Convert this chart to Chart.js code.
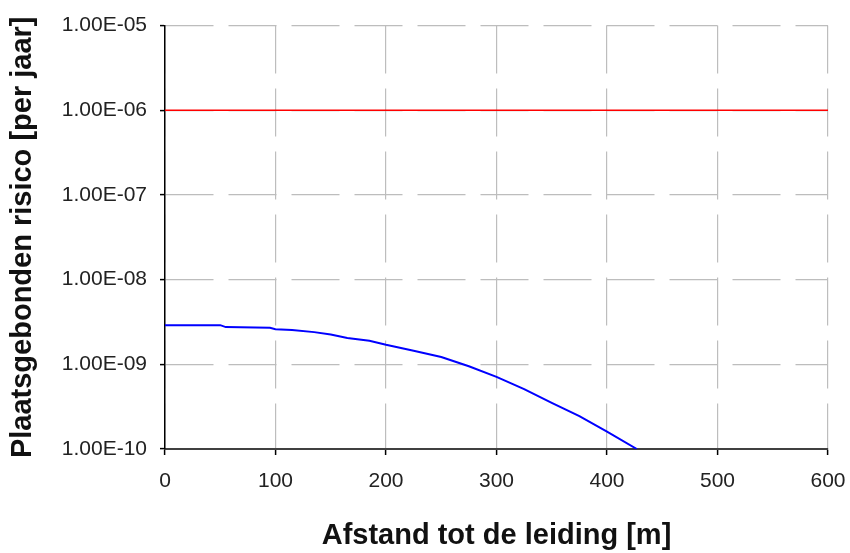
<!DOCTYPE html>
<html>
<head>
<meta charset="utf-8">
<script src="https://cdn.jsdelivr.net/npm/chart.js@4/dist/chart.umd.min.js"></script>
<style>
  html, body { margin: 0; padding: 0; background: #fff; }
  #wrap { width: 850px; height: 553px; }
</style>
</head>
<body>
<div id="wrap"><canvas id="myChart" width="850" height="553"></canvas></div>
<script>
// distance to the pipeline [m] and individual risk [per year]
const distance = [0, 50, 55, 95, 100, 115, 135, 150, 165, 185, 200, 225, 250, 275, 300, 325, 350, 375, 400, 427];
const risk = [2.9e-9, 2.9e-9, 2.75e-9, 2.7e-9, 2.6e-9, 2.55e-9, 2.4e-9, 2.25e-9, 2.05e-9, 1.9e-9, 1.7e-9,
  1.45e-9, 1.22e-9, 9.5e-10, 7.1e-10, 5.1e-10, 3.5e-10, 2.45e-10, 1.6e-10, 1.0e-10];

// norm line
const normX = [0, 600];
const normY = [1e-6, 1e-6];

const yTicks = [1e-10, 1e-9, 1e-8, 1e-7, 1e-6, 1e-5];
const xTicks = [0, 100, 200, 300, 400, 500, 600];

function fmtExp(v) {
  const e = Math.round(Math.log10(v));
  const m = v / Math.pow(10, e);
  return m.toFixed(2) + 'E' + (e < 0 ? '-' : '+') + String(Math.abs(e)).padStart(2, '0');
}

const ctx = document.getElementById('myChart');
const font = 'Liberation Sans, Arial, sans-serif';
const dash = [48, 15];

new Chart(ctx, {
  type: 'line',
  data: {
    datasets: [
      {
        data: normX.map((x, i) => ({ x: x, y: normY[i] })),
        borderColor: '#ff0000',
        borderWidth: 1.5,
        pointRadius: 0
      },
      {
        data: distance.map((x, i) => ({ x: x, y: risk[i] })),
        borderColor: '#0000ff',
        borderWidth: 2,
        pointRadius: 0,
        tension: 0
      }
    ]
  },
  options: {
    responsive: false,
    animation: false,
    layout: { padding: { top: 25, right: 22, left: 6, bottom: 0 } },
    plugins: { legend: { display: false }, tooltip: { enabled: false } },
    scales: {
      x: {
        type: 'linear',
        min: 0,
        max: 600,
        afterBuildTicks: s => { s.ticks = xTicks.map(v => ({ value: v })); },
        afterFit: s => { s.height = 104; s.paddingRight = 0; s.paddingLeft = 0; },
        ticks: { color: '#222', font: { family: font, size: 21 }, padding: 14, autoSkip: false, maxRotation: 0 },
        grid: { color: '#bdbdbd', lineWidth: 1.2, tickLength: 6, tickColor: '#000', tickWidth: 1.5 },
        border: { color: '#404040', width: 2, dash: dash },
        title: {
          display: true,
          text: 'Afstand tot de leiding [m]',
          color: '#111',
          font: { family: font, size: 29, weight: 'bold' },
          padding: { top: 0, bottom: 0 }
        }
      },
      y: {
        type: 'logarithmic',
        min: 1e-10,
        max: 1e-5,
        afterBuildTicks: s => { s.ticks = yTicks.map(v => ({ value: v, major: true })); },
        afterFit: s => { s.width = 159; },
        ticks: { color: '#222', font: { family: font, size: 21 }, padding: 13, callback: v => fmtExp(v) },
        grid: { color: '#bdbdbd', lineWidth: 1.2, tickLength: 5, tickColor: '#000', tickWidth: 1.5 },
        border: { color: '#000', width: 1.5, dash: dash },
        title: {
          display: true,
          text: 'Plaatsgebonden risico [per jaar]',
          color: '#111',
          font: { family: font, size: 29, weight: 'bold' },
          padding: { top: 0, bottom: 0 }
        }
      }
    }
  }
});
</script>
</body>
</html>
